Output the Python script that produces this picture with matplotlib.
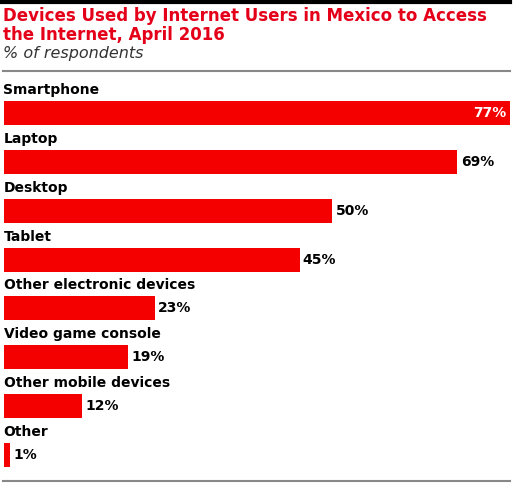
import matplotlib
matplotlib.use("Agg")
import matplotlib.pyplot as plt

categories = ["Smartphone", "Laptop", "Desktop", "Tablet", "Other electronic devices",
              "Video game console", "Other mobile devices", "Other"]
values = [77, 69, 50, 45, 23, 19, 12, 1]
title = "Devices Used by Internet Users in Mexico to Access\nthe Internet, April 2016"
subtitle = "% of respondents"

W, H = 519, 483
fig = plt.figure(figsize=(W / 100, H / 100), dpi=100)
RED = "#f50000"
TITLE_RED = "#e5001a"

# decorations
fig.add_artist(plt.Line2D([0, 510 / W], [1 - 1.5 / H, 1 - 1.5 / H], color="black", lw=3))
fig.add_artist(plt.Line2D([3 / W, 510 / W], [1 - 71 / H, 1 - 71 / H], color="#888888", lw=1.5))
fig.add_artist(plt.Line2D([3 / W, 510 / W], [1 - 481 / H, 1 - 481 / H], color="#888888", lw=1.5))

fig.text(3 / W, 1 - 7 / H, title, ha="left", va="top", fontsize=12, fontweight="bold",
         color=TITLE_RED, linespacing=1.1)
fig.text(3 / W, 1 - 46 / H, subtitle, ha="left", va="top", fontsize=11.5, style="italic",
         color="#333333")

# axes: pixel x 3.5..510, y 80..475
ax = fig.add_axes([3.5 / W, 1 - 475 / H, (510 - 3.5) / W, (475 - 80) / H])
step = 48.9
ax.set_xlim(0, max(values))
ax.set_ylim(7 + (475 - 455) / step, -(113 - 80) / step)
ax.axis("off")

pos = list(range(len(categories)))
ax.barh(pos, values, height=24 / step, color=RED, edgecolor="none")
for i, (c, v) in enumerate(zip(categories, values)):
    ax.text(0, i - 12 / step - 4 / step, c, ha="left", va="bottom", fontsize=10,
            fontweight="bold", color="black")
    if v == max(values):
        ax.text(v - 0.6, i, f"{v}%", ha="right", va="center", fontsize=10,
                fontweight="bold", color="white")
    else:
        ax.text(v + 0.5, i, f"{v}%", ha="left", va="center", fontsize=10,
                fontweight="bold", color="black")

fig.savefig("out.png", dpi=100)
